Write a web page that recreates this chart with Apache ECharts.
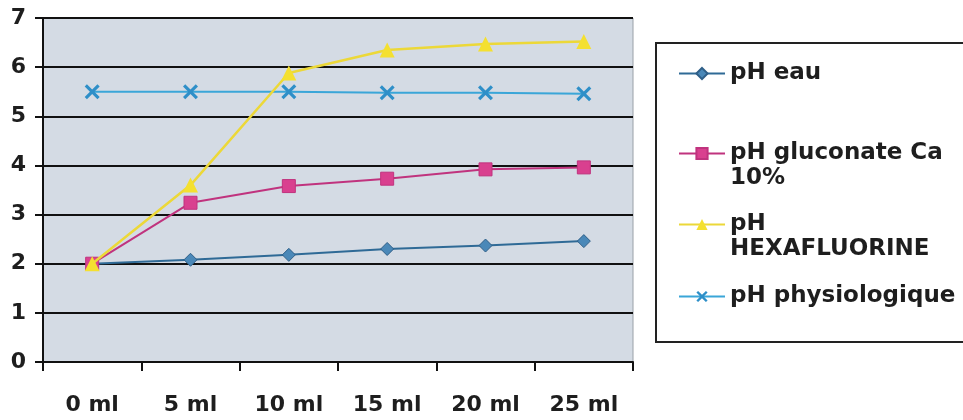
<!DOCTYPE html>
<html><head><meta charset="utf-8">
<script src="https://cdn.jsdelivr.net/npm/echarts@6/dist/echarts.min.js"></script>
<style>html,body{margin:0;padding:0;background:#fff}#c{width:963px;height:420px}</style>
</head><body><div id="c"></div>
<script>
var categories = ['0 ml', '5 ml', '10 ml', '15 ml', '20 ml', '25 ml'];
var yTicks = [0, 1, 2, 3, 4, 5, 6, 7];
var phEau = [2.0, 2.08, 2.18, 2.3, 2.37, 2.46];
var phGluconate = [2.0, 3.24, 3.58, 3.73, 3.92, 3.96];
var phHexa = [2.0, 3.6, 5.88, 6.35, 6.47, 6.52];
var phPhysio = [5.5, 5.5, 5.5, 5.48, 5.48, 5.46];
var names = ['pH eau', 'pH gluconate Ca 10%', 'pH HEXAFLUORINE', 'pH physiologique'];
var legendLabels = {
  'pH eau': 'pH eau',
  'pH gluconate Ca 10%': '\npH gluconate Ca\n10%',
  'pH HEXAFLUORINE': '\npH\nHEXAFLUORINE',
  'pH physiologique': 'pH physiologique'
};

var FONT = 'DejaVu Sans';
var xSym = 'path://M0,1.5L1.5,0L5,3.5L8.5,0L10,1.5L6.5,5L10,8.5L8.5,10L5,6.5L1.5,10L0,8.5L3.5,5Z';

function mkLegend(name, top) {
  return {
    data: [name], left: 673, top: top, orient: 'vertical',
    itemWidth: 46, itemHeight: 14, itemGap: 8, selectedMode: false,
    formatter: function (n) { return legendLabels[n]; },
    textStyle: {fontFamily: FONT, fontWeight: 'bold', fontSize: 23, lineHeight: 25, color: '#1e1e1e'}
  };
}

var chart = echarts.init(document.getElementById('c'), null, {renderer: 'canvas'});
chart.setOption({
  animation: false,
  backgroundColor: '#fff',
  grid: {left: 43, top: 18, width: 590, height: 344, show: true, backgroundColor: '#d4dbe4', borderColor: '#9aa0a8', borderWidth: 1},
  graphic: [{type: 'rect', shape: {x: 656, y: 43, width: 320, height: 299}, style: {fill: 'none', stroke: '#222', lineWidth: 2}, z: -1}],
  legend: [
    mkLegend(names[0], 56),
    mkLegend(names[1], 111),
    mkLegend(names[2], 182),
    mkLegend(names[3], 279)
  ],
  xAxis: {
    type: 'category', data: categories, boundaryGap: true,
    axisLine: {lineStyle: {color: '#111', width: 2}},
    axisTick: {show: true, length: 9, inside: false, lineStyle: {color: '#111', width: 2}},
    axisLabel: {margin: 32, fontFamily: FONT, fontWeight: 'bold', fontSize: 22, color: '#1e1e1e'},
    splitLine: {show: false}
  },
  yAxis: {
    type: 'value', min: 0, max: 7, interval: 1,
    axisLine: {show: true, lineStyle: {color: '#111', width: 2}},
    axisTick: {show: true, length: 8, lineStyle: {color: '#111', width: 2}},
    axisLabel: {margin: 17, fontFamily: FONT, fontWeight: 'bold', fontSize: 22, color: '#1e1e1e',
      formatter: function (v) { return yTicks.indexOf(v) >= 0 ? String(v) : ''; }},
    splitLine: {show: true, lineStyle: {color: '#111', width: 2}}
  },
  series: [
    {name: names[0], type: 'line', data: phEau, symbol: 'diamond', symbolSize: 13,
      lineStyle: {color: '#2f6a96', width: 2}, itemStyle: {color: '#4a88b8', borderColor: '#2f5f88', borderWidth: 1}, z: 3},
    {name: names[1], type: 'line', data: phGluconate, symbol: 'rect', symbolSize: 13,
      lineStyle: {color: '#c0337e', width: 2}, itemStyle: {color: '#d9408f', borderColor: '#c0337e', borderWidth: 1}, z: 4},
    {name: names[2], type: 'line', data: phHexa, symbol: 'triangle', symbolSize: 15,
      lineStyle: {color: '#ecd838', width: 2.5}, itemStyle: {color: '#f4e030'}, z: 5},
    {name: names[3], type: 'line', data: phPhysio, symbol: xSym, symbolSize: 15,
      lineStyle: {color: '#3aa6d8', width: 2}, itemStyle: {color: '#2e8fc8'}, z: 2}
  ]
});
</script></body></html>
